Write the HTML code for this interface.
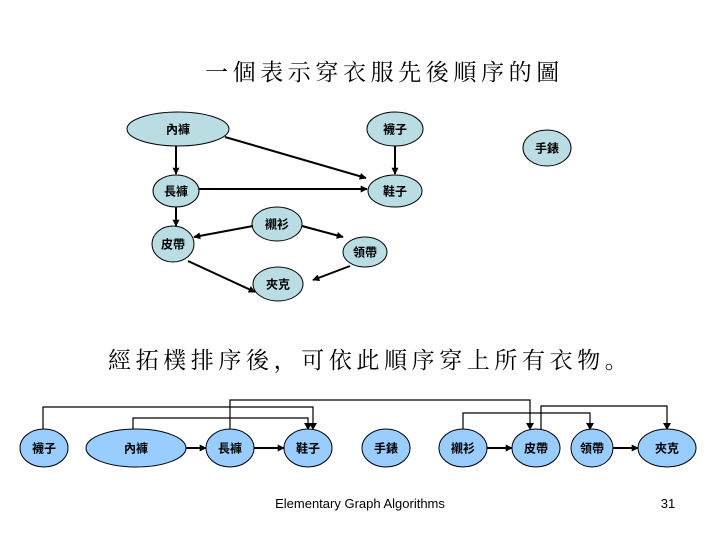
<!DOCTYPE html>
<html><head><meta charset="utf-8"><style>
body{margin:0;background:#fff;width:720px;height:540px;overflow:hidden}
svg{display:block}
.t{font-family:"Liberation Sans","Noto Sans CJK TC",sans-serif}
.s{font-family:"Liberation Serif","Noto Serif CJK SC",serif;letter-spacing:4.6px}
.n{font-family:"Noto Sans CJK TC",sans-serif;font-size:12px;font-weight:bold;text-anchor:middle;dominant-baseline:central}
</style></head><body>
<svg width="720" height="540" viewBox="0 0 720 540">
<defs><marker id="a" viewBox="0 0 10 10" refX="9" refY="5" markerWidth="7" markerHeight="7" orient="auto" markerUnits="userSpaceOnUse"><path d="M0,0L10,5L0,10z" fill="#000"/></marker></defs>
<text x="205" y="80" class="s" font-size="23">一個表示穿衣服先後順序的圖</text>
<g fill="#b9dde2" stroke="#000" stroke-width="1">
<ellipse cx="178" cy="129" rx="51" ry="17"/><ellipse cx="395" cy="129" rx="28" ry="17"/><ellipse cx="547" cy="148" rx="24" ry="18"/>
<ellipse cx="176" cy="191" rx="23" ry="16"/><ellipse cx="395" cy="191" rx="27" ry="16"/><ellipse cx="277" cy="224" rx="25" ry="17"/>
<ellipse cx="173" cy="244" rx="21" ry="18"/><ellipse cx="365" cy="252" rx="22" ry="15"/><ellipse cx="278" cy="284" rx="25" ry="17"/>
</g>
<g stroke="#000" stroke-width="2" marker-end="url(#a)">
<line x1="225" y1="137" x2="366" y2="178"/><line x1="395" y1="146" x2="395" y2="174"/><line x1="176" y1="146" x2="176" y2="174"/>
<line x1="199" y1="189" x2="367" y2="189"/><line x1="176" y1="207" x2="176" y2="226"/><line x1="253" y1="226" x2="194" y2="237"/>
<line x1="302" y1="226" x2="343" y2="237"/><line x1="188" y1="261" x2="255" y2="292"/><line x1="350" y1="266" x2="313" y2="280"/>
</g>
<g class="n"><text x="178" y="129">內褲</text><text x="395" y="129">襪子</text><text x="547" y="148">手錶</text><text x="176" y="191">長褲</text><text x="395" y="191">鞋子</text><text x="277" y="224">襯衫</text><text x="173" y="244">皮帶</text><text x="365" y="252">領帶</text><text x="278" y="284">夾克</text></g>
<text x="108" y="368" class="s" font-size="23">經拓樸排序後，可依此順序穿上所有衣物。</text>
<g fill="none" stroke="#000" stroke-width="1.2">
<polyline points="43,429 43,407 313,407 313,425"/><polyline points="133,431 133,418 308,418 308,425"/>
<polyline points="230,429 230,400 530,400 530,425"/><polyline points="463,429 463,413 590,413 590,425"/>
<polyline points="541,429 541,406 667,406 667,425"/>
</g>
<g fill="#000"><path d="M309,423h8l-4,7z"/><path d="M304,423h8l-4,7z"/><path d="M526,423h8l-4,7z"/><path d="M586,423h8l-4,7z"/><path d="M663,423h8l-4,7z"/></g>
<g fill="#99ccff" stroke="#000" stroke-width="1">
<ellipse cx="44" cy="448" rx="24" ry="19"/><ellipse cx="136" cy="448" rx="50" ry="19"/><ellipse cx="230" cy="448" rx="24" ry="19"/><ellipse cx="308" cy="448" rx="24" ry="19"/><ellipse cx="386" cy="448" rx="24" ry="19"/><ellipse cx="463" cy="448" rx="24" ry="19"/><ellipse cx="536" cy="448" rx="24" ry="19"/><ellipse cx="592" cy="448" rx="21" ry="19"/><ellipse cx="667" cy="448" rx="29" ry="19"/>
</g>
<g stroke="#000" stroke-width="2" marker-end="url(#a)">
<line x1="186" y1="448" x2="206" y2="448"/><line x1="254" y1="448" x2="284" y2="448"/><line x1="487" y1="448" x2="512" y2="448"/><line x1="613" y1="448" x2="638" y2="448"/>
</g>
<g class="n"><text x="44" y="448">襪子</text><text x="136" y="448">內褲</text><text x="230" y="448">長褲</text><text x="308" y="448">鞋子</text><text x="386" y="448">手錶</text><text x="463" y="448">襯衫</text><text x="536" y="448">皮帶</text><text x="592" y="448">領帶</text><text x="667" y="448">夾克</text></g>
<text x="360" y="508" class="t" font-size="13" text-anchor="middle">Elementary Graph Algorithms</text>
<text x="668" y="508" class="t" font-size="13" text-anchor="middle">31</text>
</svg>
</body></html>
